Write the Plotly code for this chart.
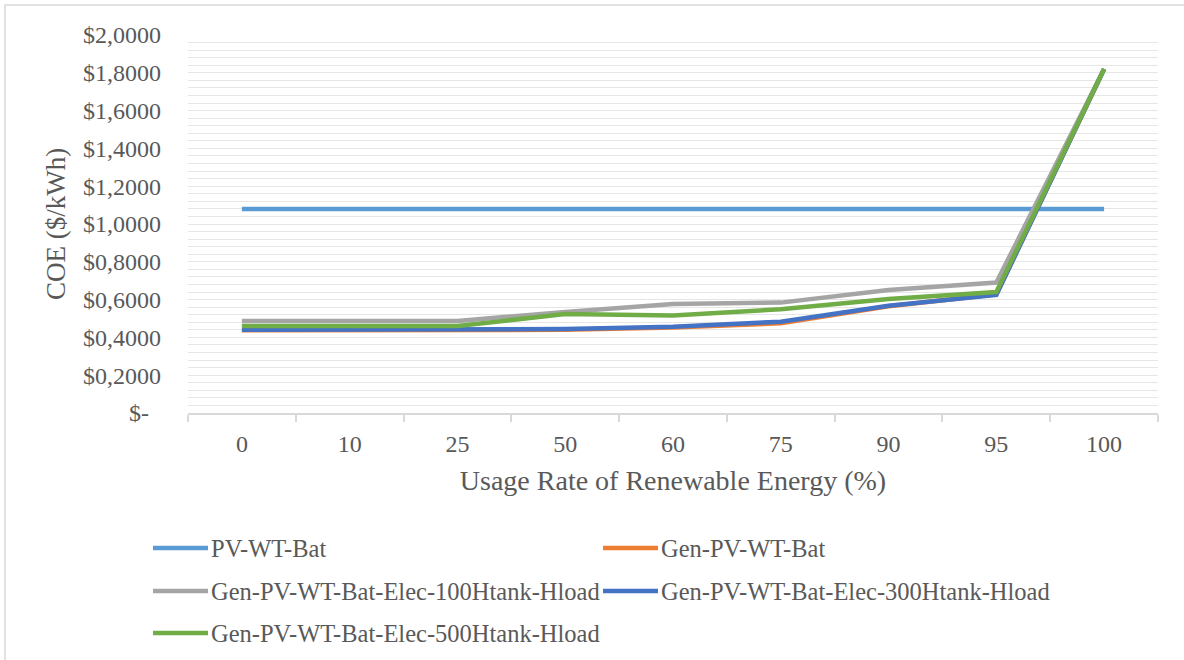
import plotly.graph_objects as go

# Usage rate of renewable energy (%) — categorical x axis
usage_rate = ["0", "10", "25", "50", "60", "75", "90", "95", "100"]

# Cost of energy ($/kWh) for each system configuration
pv_wt_bat = [1.08, 1.08, 1.08, 1.08, 1.08, 1.08, 1.08, 1.08, 1.08]
gen_pv_wt_bat = [0.438, 0.438, 0.438, 0.440, 0.452, 0.475, 0.565, 0.628, 1.82]
elec_100htank = [0.487, 0.487, 0.487, 0.535, 0.577, 0.584, 0.651, 0.690, 1.82]
elec_300htank = [0.441, 0.441, 0.441, 0.444, 0.457, 0.483, 0.568, 0.625, 1.82]
elec_500htank = [0.460, 0.460, 0.460, 0.524, 0.516, 0.549, 0.603, 0.640, 1.82]

series_names = [
    "PV-WT-Bat",
    "Gen-PV-WT-Bat",
    "Gen-PV-WT-Bat-Elec-100Htank-Hload",
    "Gen-PV-WT-Bat-Elec-300Htank-Hload",
    "Gen-PV-WT-Bat-Elec-500Htank-Hload",
]
series_values = [pv_wt_bat, gen_pv_wt_bat, elec_100htank, elec_300htank, elec_500htank]
series_colors = ["#5B9BD5", "#ED7D31", "#A5A5A5", "#4472C4", "#70AD47"]

y_tick_values = [0.0, 0.2, 0.4, 0.6, 0.8, 1.0, 1.2, 1.4, 1.6, 1.8, 2.0]
y_tick_labels = ["$-\u00a0\u00a0", "$0,2000", "$0,4000", "$0,6000", "$0,8000", "$1,0000",
                 "$1,2000", "$1,4000", "$1,6000", "$1,8000", "$2,0000"]

W, H = 1184, 660
L, R, T, B = 188, 26, 35, 247
plot_w = W - L - R
plot_h = H - T - B
FONT = "Liberation Serif, Times New Roman, serif"
TEXT = "#595959"


def px_x(px):
    return (px - L) / plot_w


def px_y(py):
    return (H - B - py) / plot_h


fig = go.Figure()
for name, vals, col in zip(series_names, series_values, series_colors):
    fig.add_trace(go.Scatter(
        x=usage_rate, y=vals, name=name, mode="lines",
        line=dict(color=col, width=4.5), showlegend=False,
    ))

# Two-column legend below the plot
legend_rows = [548, 591, 633]
legend_cols = [153, 603]
shapes = []
annotations = []
for i, (name, col) in enumerate(zip(series_names, series_colors)):
    lx = legend_cols[i % 2]
    ly = legend_rows[i // 2]
    shapes.append(dict(type="line", xref="paper", yref="paper",
                       x0=px_x(lx), x1=px_x(lx + 55), y0=px_y(ly), y1=px_y(ly),
                       line=dict(color=col, width=4.5)))
    annotations.append(dict(text=name, xref="paper", yref="paper",
                            x=px_x(lx + 56), y=px_y(ly), xanchor="left", yanchor="middle",
                            showarrow=False, font=dict(family=FONT, size=24.5, color=TEXT)))

# Chart area frame
shapes.append(dict(type="rect", xref="paper", yref="paper", layer="below",
                   x0=px_x(5), x1=px_x(W + 20), y0=px_y(5), y1=px_y(H + 20),
                   line=dict(color="#D9D9D9", width=1.5), fillcolor="rgba(0,0,0,0)"))

fig.update_layout(
    width=W, height=H,
    margin=dict(l=L, r=R, t=T, b=B),
    paper_bgcolor="white", plot_bgcolor="white",
    font=dict(family=FONT, size=24, color=TEXT),
    shapes=shapes, annotations=annotations,
    xaxis=dict(
        type="category", range=[-0.5, 8.5],
        title=dict(text="Usage Rate of Renewable Energy (%)", font=dict(size=28, color=TEXT), standoff=15),
        showline=True, linecolor="#D9D9D9", linewidth=1.5,
        ticks="outside", tickson="boundaries", ticklen=7, tickcolor="#D9D9D9", tickwidth=1.5,
        ticklabelstandoff=8,
        showgrid=False, tickfont=dict(size=24, color=TEXT),
    ),
    yaxis=dict(
        range=[0, 2.0],
        title=dict(text="COE ($/kWh)", font=dict(size=27, color=TEXT), standoff=9),
        tickmode="array", tickvals=y_tick_values, ticktext=y_tick_labels,
        showgrid=True, gridcolor="#E6E6E6", gridwidth=1,
        minor=dict(dtick=0.04, showgrid=True, gridcolor="#E6E6E6", gridwidth=1),
        zeroline=False, showline=False, ticks="",
        ticklabelstandoff=26,
        tickfont=dict(size=24, color=TEXT),
    ),
)

fig.write_html("out.html")
